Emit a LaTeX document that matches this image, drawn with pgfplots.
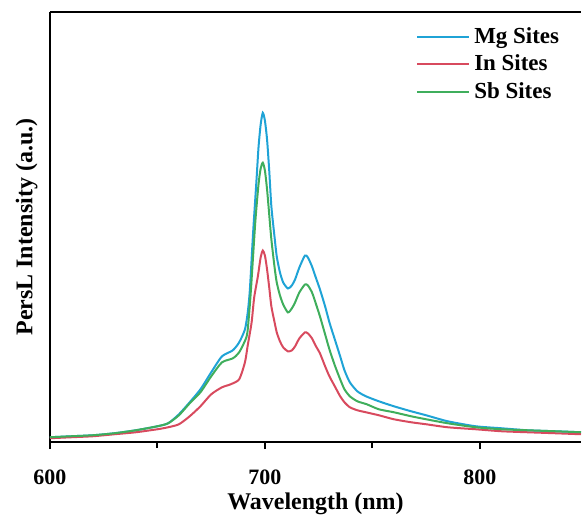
\documentclass[border=0pt]{standalone}
\usepackage{fontspec}
\setmainfont{Liberation Serif}
\usepackage{pgfplots}
\pgfplotsset{compat=1.18}
\definecolor{mgblue}{HTML}{1FA3D6}
\definecolor{inred}{HTML}{D84A5E}
\definecolor{sbgreen}{HTML}{3FAE5C}

\pgfplotstableread{
x y
600 5
610 6
620 7
630 9
640 12
650 16
655 19
660 28
665 40
670 53
675 70
680 86
685 92
688 100
690.7 113
692 130
693 153
694.5 210
696 260
697 295
698 318
699 330
700 322
701 303
702 272
703 236
704.5 205
705.5 186
707 170
708.5 160
710.7 154
712.5 157
714 163
716 175
718.6 187
720 185
721.9 176
723.5 166
725.6 153
728 136
730 120
732.5 103
735 86
737 72
739.5 60
743 51
747 46
753 41
760 36
768 31
775 27
785 21
798 16
810 14
822 12
835 11
847 10
}\mgdata

\pgfplotstableread{
x y
600 4
610 5
620 6
630 8
640 10
650 13
655 15
660 18
665 26
670 36
675 48
680 55
684 58
688 63
690.7 80
692 97
693.8 120
695 145
696.7 166
698 185
699 192
700 187
701 173
702 155
703 136
704.5 120
705.5 110
707 101
708.5 95
710.7 91
712.5 92
714 96
716 104
718.6 110
720 109
721.9 104
723.5 97
725.6 89
728 76
730 66
732.5 56
735 46
737 40
739.5 35
743 32
747 30
753 27
760 23
768 20
775 18
785 15
798 13
810 11
822 10
835 9
847 8
}\indata

\pgfplotstableread{
x y
600 5
610 6
620 7
630 9
640 12
650 16
655 19
660 27
665 39
670 50
675 66
680 80
685 84
688 90
691.5 106
692.5 125
693.5 153
695.5 220
697 258
698 274
699 280
700 272
701 253
702 228
703 203
704.5 175
705.5 160
707 147
708.5 138
710.7 130
712.5 134
714 140
716 150
718.6 158
720 157
721.9 150
723.5 140
725.6 126
728 108
730 93
732.5 77
735 63
737 53
739.5 46
743 41
747.4 38
753 33
760 30
768 26
775 23
785 19
798 15
810 13
822 12
835 11
847 10
}\sbdata

\begin{document}
\begin{tikzpicture}
\begin{axis}[
    scale only axis,
    width=266pt, height=215.5pt,
    xmin=600, xmax=847,
    ymin=0, ymax=431,
    axis x line=box, axis y line=left,
    axis line style={line width=1pt, -},
    xtick={600,700,800},
    minor xtick={650,750},
    ytick=\empty,
    tick align=outside,
    xtick pos=bottom,
    major tick length=3.5pt, minor tick length=3pt,
    every tick/.style={line width=1pt, black},
    /pgf/number format/assume math mode=true,
    xticklabel style={font=\fontsize{11}{13}\selectfont\bfseries, yshift=-7pt},
    xlabel={Wavelength (nm)},
    ylabel={PersL Intensity (a.u.)},
    every axis x label/.style={at={(axis description cs:0.5,-0.144)}, anchor=center, font=\fontsize{12}{14}\selectfont\bfseries},
    every axis y label/.style={at={(axis description cs:-0.044,0.5)}, anchor=center, rotate=90, font=\fontsize{12}{14}\selectfont\bfseries},
    legend style={at={(axis description cs:0.967,0.975)}, anchor=north east, draw=none, fill=none,
        font=\fontsize{11.5}{13}\selectfont\bfseries, row sep=0.3pt, inner sep=0pt},
    legend cell align=left,
    legend image code/.code={\draw[#1] (0pt,0pt) -- (26pt,0pt);},
]
\addplot[mgblue, line width=1pt, smooth, tension=0.4] table[x=x,y=y] {\mgdata};
\addlegendentry{Mg Sites}
\addplot[inred, line width=1pt, smooth, tension=0.4] table[x=x,y=y] {\indata};
\addlegendentry{In Sites}
\addplot[sbgreen, line width=1pt, smooth, tension=0.4] table[x=x,y=y] {\sbdata};
\addlegendentry{Sb Sites}
\end{axis}
\path[use as bounding box] ([xshift=-25pt,yshift=-40pt]current axis.south west) rectangle ([yshift=6pt]current axis.north east);
\end{tikzpicture}
\end{document}
